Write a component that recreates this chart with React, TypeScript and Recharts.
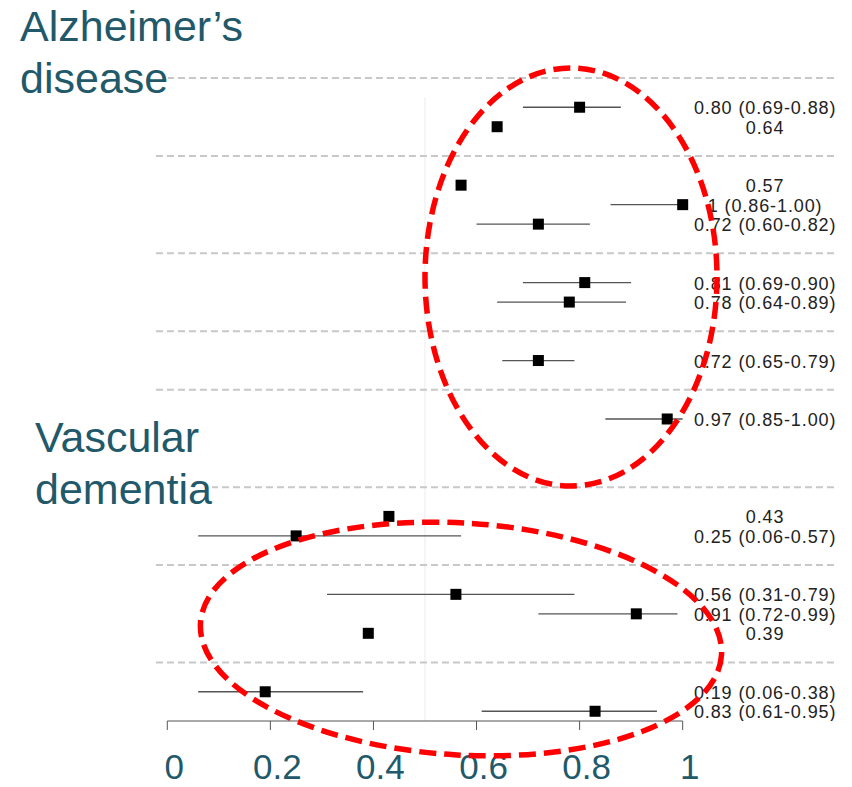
import React from "react";
import {
  ErrorBar,
  ReferenceLine,
  Scatter,
  ScatterChart,
  XAxis,
  YAxis,
} from "recharts";

// row slots (top to bottom) of each study
const rowIndex = [0, 1, 4, 5, 6, 9, 10, 13, 16, 21, 22, 25, 26, 27, 30, 31];
const estimate = [0.8, 0.64, 0.57, 1.0, 0.72, 0.81, 0.78, 0.72, 0.97, 0.43, 0.25, 0.56, 0.91, 0.39, 0.19, 0.83];
const lower = [0.69, null, null, 0.86, 0.6, 0.69, 0.64, 0.65, 0.85, null, 0.06, 0.31, 0.72, null, 0.06, 0.61];
const upper = [0.88, null, null, 1.0, 0.82, 0.9, 0.89, 0.79, 1.0, null, 0.57, 0.79, 0.99, null, 0.38, 0.95];
const valueLabels = [
  "0.80 (0.69-0.88)",
  "0.64",
  "0.57",
  "1 (0.86-1.00)",
  "0.72 (0.60-0.82)",
  "0.81 (0.69-0.90)",
  "0.78 (0.64-0.89)",
  "0.72 (0.65-0.79)",
  "0.97 (0.85-1.00)",
  "0.43",
  "0.25 (0.06-0.57)",
  "0.56 (0.31-0.79)",
  "0.91 (0.72-0.99)",
  "0.39",
  "0.19 (0.06-0.38)",
  "0.83 (0.61-0.95)",
];
const separatorRows = [-1.5, 2.5, 7.5, 11.5, 14.5, 19.5, 23.5, 28.5];
const xTicks = [0, 0.2, 0.4, 0.6, 0.8, 1];
const xTickLabels = ["0", "0.2", "0.4", "0.6", "0.8", "1"];

const LABEL_X = 1.16;
const SEP_FROM = -0.022;
const SEP_TO = 1.296;

const TEAL = "#22596a";
const FONT = "'Liberation Sans', Arial, sans-serif";

const points = rowIndex.map((y, i) => ({
  x: estimate[i],
  y,
  err: [
    lower[i] == null ? 0 : estimate[i] - (lower[i] as number),
    upper[i] == null ? 0 : (upper[i] as number) - estimate[i],
  ],
}));

const labels = rowIndex.map((y, i) => ({ x: LABEL_X, y, label: valueLabels[i] }));

function Square(props: any) {
  const { cx, cy } = props;
  return <rect x={cx - 5.5} y={cy - 5.5} width={11} height={11} fill="#000" />;
}

function ValueText(props: any) {
  const { cx, cy, payload } = props;
  return (
    <text
      x={cx}
      y={cy + 7}
      textAnchor="middle"
      fill="#222"
      fontSize={18}
      letterSpacing={0.9}
      fontFamily={FONT}
    >
      {payload.label}
    </text>
  );
}

function XTick(props: any) {
  const { x, y, payload } = props;
  const idx = xTicks.indexOf(payload.value);
  return (
    <text x={x + 7} y={y + 47} textAnchor="middle" fill={TEAL} fontSize={35} fontFamily={FONT}>
      {xTickLabels[idx]}
    </text>
  );
}

const titleStyle: React.CSSProperties = {
  position: "absolute",
  fontFamily: FONT,
  fontSize: 43,
  lineHeight: "52px",
  color: TEAL,
  whiteSpace: "nowrap",
};

export default function App() {
  return (
    <div style={{ position: "absolute", left: 0, top: 0, width: 852, height: 787, background: "#fff" }}>
      <ScatterChart
        width={852}
        height={787}
        margin={{ top: 78, right: 14.7, left: 154.4, bottom: 0 }}
        style={{ fontFamily: FONT }}
      >
        <XAxis
          type="number"
          dataKey="x"
          domain={[-0.025, 1.3]}
          ticks={xTicks}
          allowDataOverflow
          axisLine={false}
          tickLine={{ stroke: "#555" }}
          tickSize={9}
          height={66}
          tick={<XTick />}
        />
        <YAxis type="number" dataKey="y" domain={[-1.5, 31.5]} reversed hide allowDataOverflow />
        <ReferenceLine
          segment={[
            { x: 0.5, y: -0.5 },
            { x: 0.5, y: 31.5 },
          ]}
          stroke="#ececec"
        />
        {separatorRows.map((r) => (
          <ReferenceLine
            key={r}
            segment={[
              { x: SEP_FROM, y: r },
              { x: SEP_TO, y: r },
            ]}
            stroke="#c8c8c8"
            strokeWidth={2}
            strokeDasharray="7 4"
          />
        ))}
        <ReferenceLine
          segment={[
            { x: 0, y: 31.5 },
            { x: 1, y: 31.5 },
          ]}
          stroke="#555"
        />
        <Scatter data={points} shape={<Square />} isAnimationActive={false}>
          <ErrorBar dataKey="err" direction="x" width={0} stroke="#555" strokeWidth={1.3} />
        </Scatter>
        <Scatter data={labels} shape={<ValueText />} isAnimationActive={false} />
      </ScatterChart>

      <div style={{ ...titleStyle, left: 20, top: 0 }}>
        <span style={{ background: "#fff" }}>Alzheimer’s</span>
        <br />
        <span style={{ background: "#fff" }}>disease</span>
      </div>
      <div style={{ ...titleStyle, left: 35, top: 411 }}>
        <span style={{ background: "#fff" }}>Vascular</span>
        <br />
        <span style={{ background: "#fff" }}>dementia</span>
      </div>

      <svg
        width={852}
        height={787}
        style={{ position: "absolute", left: 0, top: 0, pointerEvents: "none" }}
      >
        <ellipse
          cx={571}
          cy={277}
          rx={146}
          ry={209}
          fill="none"
          stroke="#ff0000"
          strokeWidth={5.5}
          strokeDasharray="17 8"
        />
        <ellipse
          cx={461}
          cy={639}
          rx={261}
          ry={116}
          transform="rotate(3.5 461 639)"
          fill="none"
          stroke="#ff0000"
          strokeWidth={5.5}
          strokeDasharray="17 8"
        />
      </svg>
    </div>
  );
}
